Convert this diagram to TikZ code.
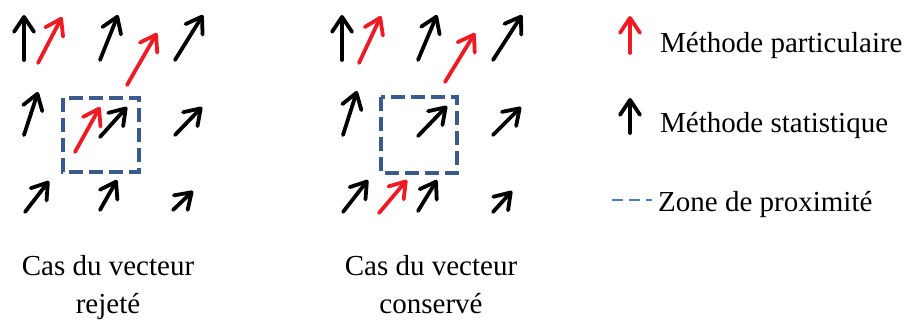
\documentclass[tikz,border=0pt]{standalone}
\usepackage{fontspec}
\setmainfont{Liberation Serif}
\usetikzlibrary{arrows.meta}
\definecolor{vred}{RGB}{237,28,36}
\definecolor{zblue}{RGB}{59,90,140}
\definecolor{lblue}{RGB}{74,126,187}
\begin{document}
\begin{tikzpicture}[x=1pt,y=-1pt,
  vec/.style={line width=3.8pt,line cap=round,line join=round,-{Straight Barb[length=15pt,width=20pt,line cap=round,line join=round]}},
  blk/.style={vec,black},
  rd/.style={vec,vred},
  zone/.style={draw=zblue,line width=3.2pt,dash pattern=on 14pt off 6pt},
  lbl/.style={font=\fontsize{29}{38}\selectfont,inner sep=0pt}]
\useasboundingbox (0,0) rectangle (909,320);
% ---- left panel: rejected
\draw[zone] (63,98) rectangle (139,172);
\draw[blk] (24,60) -- (24,15);
\draw[rd]  (38,63) -- (62,17);
\draw[blk] (100,60) -- (118,15);
\draw[blk] (175,60) -- (203,15);
\draw[rd]  (127,85) -- (157,33);
\draw[blk] (24,135) -- (38,92);
\draw[blk] (100,137) -- (127,107);
\draw[rd]  (75,152) -- (100,107);
\draw[blk] (175,135) -- (202,107);
\draw[blk] (25,212) -- (49,181);
\draw[blk] (100,210) -- (117,180);
\draw[blk] (173,210) -- (193,191);
\node[lbl,align=center,anchor=base] (capL) at (108,313) {Cas du vecteur\\rejeté};
% ---- right panel: kept
\draw[zone] (381,97) rectangle (457,173);
\draw[blk] (342,60) -- (342,15);
\draw[rd]  (359,63) -- (381,16);
\draw[blk] (418,60) -- (437,15);
\draw[blk] (493,60) -- (522,15);
\draw[rd]  (445,82) -- (475,33);
\draw[blk] (343,135) -- (357,91);
\draw[blk] (418,136) -- (447,106);
\draw[blk] (493,135) -- (521,107);
\draw[blk] (343,212) -- (368,180);
\draw[rd]  (379,213) -- (407,180);
\draw[blk] (418,211) -- (437,180);
\draw[blk] (493,212) -- (512,191);
\node[lbl,align=center,anchor=base] (capR) at (431,313) {Cas du vecteur\\conservé};
% ---- legend
\draw[rd]  (630,53) -- (630,16);
\node[lbl,anchor=base west] (lg1) at (660,53) {Méthode particulaire};
\draw[blk] (630,133) -- (630,98);
\node[lbl,anchor=base west] (lg2) at (660,133) {Méthode statistique};
\draw[draw=lblue,line width=2.5pt,dash pattern=on 11pt off 6pt] (612,200) -- (652,200);
\node[lbl,anchor=base west] (lg3) at (658,212) {Zone de proximité};
\end{tikzpicture}
\end{document}
